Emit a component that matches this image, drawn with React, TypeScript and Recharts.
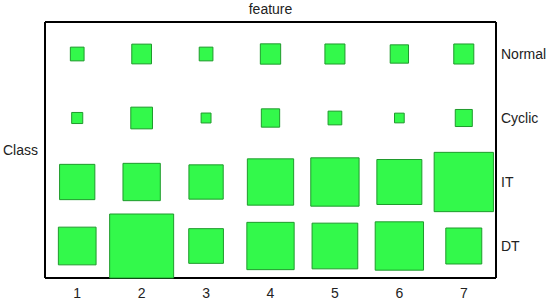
import { ScatterChart, Scatter, XAxis, YAxis, ZAxis } from "recharts";

// features along x, classes along y (top to bottom)
const features = [1, 2, 3, 4, 5, 6, 7];
const classes = ["Normal", "Cyclic", "IT", "DT"];

// square area per cell, relative (0–100)
const normalVals = [4.6, 9.5, 4.6, 10.1, 9.8, 8.2, 9.8];
const cyclicVals = [3.0, 11.5, 2.4, 8.2, 4.6, 2.3, 7.1];
const itVals = [30.4, 34.0, 28.7, 52.3, 57.0, 49.4, 85.8];
const dtVals = [34.7, 100, 29.4, 54.6, 51.0, 57.0, 31.6];

const rows = [normalVals, cyclicVals, itVals, dtVals];

const points = rows.flatMap((vals, ci) =>
  vals.map((v, fi) => ({ feature: features[fi], cls: ci + 1, value: v }))
);

const textStyle = { fill: "#222", fontSize: 14 };
const frame = { stroke: "#000", strokeWidth: 2 };

export default function App() {
  return (
    <div style={{ position: "absolute", left: 0, top: 0, fontFamily: "'Liberation Sans', Arial, sans-serif" }}>
      <ScatterChart width={550} height={304} margin={{ top: 0, right: 0, bottom: 0, left: 0 }}>
        <XAxis
          xAxisId="top"
          orientation="top"
          type="number"
          domain={[0.5, 7.5]}
          height={22}
          tick={false}
          tickLine={false}
          axisLine={frame}
          label={{ value: "feature", position: "insideTop", offset: 4, style: textStyle }}
        />
        <XAxis
          dataKey="feature"
          type="number"
          domain={[0.5, 7.5]}
          ticks={features}
          height={26}
          tickSize={8}
          tickMargin={2}
          tickLine={false}
          axisLine={frame}
          tick={textStyle}
        />
        <YAxis
          yAxisId="left"
          orientation="left"
          type="number"
          domain={[0.5, 4.5]}
          width={45}
          tick={false}
          tickLine={false}
          axisLine={frame}
          label={{ value: "Class", position: "insideLeft", offset: 3, style: textStyle }}
        />
        <YAxis
          dataKey="cls"
          orientation="right"
          type="number"
          domain={[0.5, 4.5]}
          reversed
          ticks={[1, 2, 3, 4]}
          tickFormatter={(v: number) => classes[v - 1]}
          width={54}
          tickSize={3}
          tickMargin={2}
          tickLine={false}
          axisLine={frame}
          tick={textStyle}
        />
        <ZAxis dataKey="value" type="number" domain={[0, 100]} range={[0, 4096]} />
        <Scatter
          data={points}
          shape="square"
          fill="#33f94b"
          stroke="#1f9a2c"
          strokeWidth={1}
          isAnimationActive={false}
        />
      </ScatterChart>
    </div>
  );
}
